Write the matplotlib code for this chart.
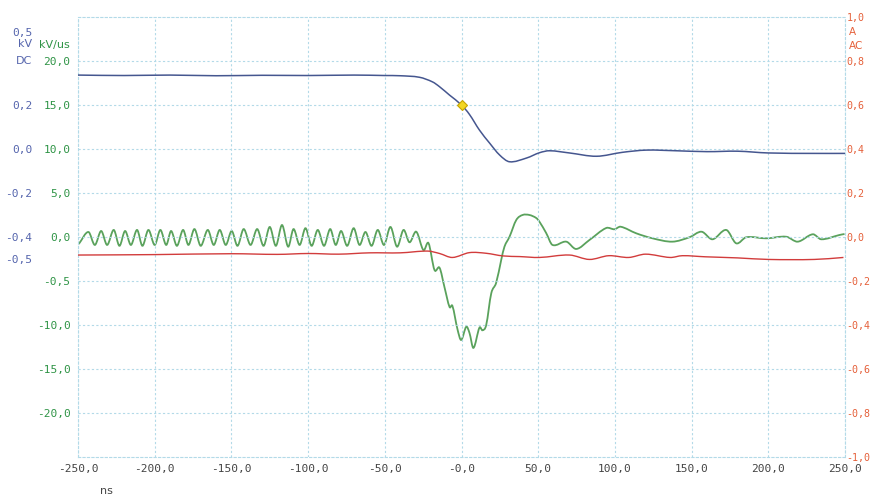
import matplotlib
matplotlib.use("Agg")
import matplotlib.pyplot as plt
from matplotlib.path import Path
from matplotlib.patches import PathPatch
import numpy as np

# time axis, ns
x_ticks = [-250, -200, -150, -100, -50, 0, 50, 100, 150, 200, 250]
x_labels = ["-250,0", "-200,0", "-150,0", "-100,0", "-50,0", "-0,0",
            "50,0", "100,0", "150,0", "200,0", "250,0"]

# green channel, kV/us
green_ticks = [20, 15, 10, 5, 0, -5, -10, -15, -20]
green_labels = ["20,0", "15,0", "10,0", "5,0", "0,0", "-0,5", "-10,0", "-15,0", "-20,0"]

# blue channel, kV DC
blue_ticks = [0.2, 0.0, -0.2, -0.4, -0.5]
blue_labels = ["0,2", "0,0", "-0,2", "-0,4", "-0,5"]

# red channel, A AC
red_ticks = [1.0, 0.8, 0.6, 0.4, 0.2, 0.0, -0.2, -0.4, -0.6, -0.8, -1.0]
red_labels = ["1,0", "0,8", "0,6", "0,4", "0,2", "0,0", "-0,2", "-0,4", "-0,6", "-0,8", "-1,0"]

green_t = [-249.5, -243.2, -239, -234.9, -231, -226.7, -223, -219.3, -215.5, -211.5,
           -208, -204.1, -200, -196.3, -192.5, -189.3, -185.5, -181.5, -178, -174.1,
           -170, -165.4, -161.5, -157.6, -153.7, -149.8, -146, -142, -137.5, -133.2,
           -129, -125, -121, -117, -113, -109.5, -105.5, -101.7, -97.7, -93.7,
           -89.6, -85.6, -82, -78.5, -74.5, -70.3, -66.5, -62.6, -58.6, -54.6,
           -50.5, -46.3, -42, -37.8, -33.9, -29.5, -24.8, -21.5,
           -17.6, -14.3, -11.1, -7.8, -5.9, -2.6, -0.2, 3.1, 5.2, 7.8,
           11.7, 13.7, 16.1, 19.4, 22.6, 25.9, 28.0, 31.3, 35.7, 39.8,
           44.3, 48.7, 50.8, 55.2, 59.3, 68.3, 74.8, 83.4, 94.3, 99.7,
           103.7, 113.9, 124.5, 137.5, 148.6, 156.5, 163.6, 172.6, 179.1, 185.6,
           198.6, 211.7, 219.2, 229.0, 234.5, 246.4, 249.7]
green_v = [-0.8, 0.57, -0.9, 0.68, -0.9, 0.8, -1.0, 0.68, -0.9, 0.8,
           -1.0, 0.8, -0.9, 0.8, -0.9, 0.68, -1.0, 0.8, -0.9, 0.9,
           -1.0, 0.8, -0.9, 0.8, -0.9, 0.68, -1.0, 0.9, -0.9, 0.9,
           -1.0, 1.14, -1.0, 1.36, -1.1, 0.9, -0.9, 1.0, -1.0, 0.8,
           -1.0, 0.9, -0.9, 0.68, -1.0, 1.0, -0.9, 0.57, -1.0, 0.8,
           -0.9, 1.14, -1.1, 0.8, -0.6, 0.6, -1.5, -0.7,
           -3.75, -3.5, -5.7, -7.95, -7.84, -10.5, -11.7, -10.2, -10.9, -12.6,
           -10.3, -10.6, -10.0, -6.4, -5.2, -2.6, -1.1, 0.03, 1.93, 2.5,
           2.5, 2.16, 1.74, 0.45, -0.9, -0.53, -1.36, -0.34, 1.02, 0.88,
           1.17, 0.42, -0.15, -0.53, -0.03, 0.6, -0.26, 0.8, -0.72, -0.03,
           -0.15, 0.03, -0.53, 0.31, -0.26, 0.23, 0.34]

blue_t = [-250, -220, -190, -160, -130, -100, -70, -50, -40, -27.4, -18.9, -14.3,
          -7.8, 0, 5.2, 11.7, 18.3, 24.8, 31.3, 42.4, 50.8, 57.4, 70.4, 88,
          105, 120.6, 140, 160, 180, 200, 230, 250]
blue_v = [0.336, 0.334, 0.336, 0.333, 0.335, 0.334, 0.336, 0.334, 0.333, 0.326, 0.305, 0.283,
          0.245, 0.200, 0.157, 0.086, 0.027, -0.027, -0.058, -0.041, -0.017, -0.008, -0.018, -0.033,
          -0.015, -0.005, -0.008, -0.012, -0.010, -0.018, -0.020, -0.020]

red_t = [-250, -200, -150, -120, -100, -80, -60, -40, -22, -14.3, -5.9, 5.2,
         16.1, 27, 38, 50.8, 70.4, 83.4, 96, 109, 120, 136, 144, 159,
         180, 200, 230, 249]
red_v = [-0.082, -0.080, -0.076, -0.079, -0.075, -0.078, -0.072, -0.072, -0.064, -0.075, -0.093, -0.071,
         -0.074, -0.086, -0.089, -0.093, -0.082, -0.102, -0.085, -0.093, -0.078, -0.093, -0.085, -0.090,
         -0.095, -0.102, -0.102, -0.093]

marker_t = [0]
marker_v = [0.2]


def smooth_path(t, v):
    # cubic hermite through the read points
    t = np.asarray(t, float)
    v = np.asarray(v, float)
    n = len(t)
    m = np.zeros(n)
    m[1:-1] = (v[2:] - v[:-2]) / (t[2:] - t[:-2])
    m[0] = (v[1] - v[0]) / (t[1] - t[0])
    m[-1] = (v[-1] - v[-2]) / (t[-1] - t[-2])
    verts = [(t[0], v[0])]
    codes = [Path.MOVETO]
    for i in range(n - 1):
        dt = t[i + 1] - t[i]
        verts += [(t[i] + dt / 3, v[i] + m[i] * dt / 3),
                  (t[i + 1] - dt / 3, v[i + 1] - m[i + 1] * dt / 3),
                  (t[i + 1], v[i + 1])]
        codes += [Path.CURVE4] * 3
    return Path(verts, codes)


W, H = 871, 497
fig = plt.figure(figsize=(W / 100, H / 100), dpi=100)
ax = fig.add_axes([78 / W, 1 - 457 / H, (845 - 78) / W, (457 - 17) / H])

grid_col = "#b3dae8"
mono = "DejaVu Sans Mono"
green_txt = "#2f9446"
blue_txt = "#5565ad"
red_txt = "#e5603a"
gray_txt = "#444444"

ax.set_xlim(-250, 250)
ax.set_ylim(-25, 25)
ax.set_xticks(x_ticks)
ax.set_xticklabels(x_labels, family=mono, fontsize=8, color=gray_txt)
ax.set_yticks(green_ticks)
ax.set_yticklabels(green_labels, family=mono, fontsize=8, color=green_txt)
ax.tick_params(length=0)
ax.tick_params(axis="y", pad=5.5)
ax.tick_params(axis="x", pad=5)
ax.grid(True, color=grid_col, linestyle=(0, (2, 2)), linewidth=0.8)
for s in ax.spines.values():
    s.set_color(grid_col)
    s.set_linestyle((0, (2, 2)))
    s.set_linewidth(0.8)

ax.add_patch(PathPatch(smooth_path(green_t, green_v), fill=False,
                       edgecolor="#5aa25c", linewidth=1.3))

# red channel on right scale
ax_r = ax.twinx()
ax_r.set_ylim(-1, 1)
ax_r.set_yticks(red_ticks)
ax_r.set_yticklabels(red_labels, family=mono, fontsize=7.2, color=red_txt)
ax_r.tick_params(length=0, pad=1)
for s in ax_r.spines.values():
    s.set_visible(False)
ax_r.add_patch(PathPatch(smooth_path(red_t, red_v), fill=False,
                         edgecolor="#d23c3c", linewidth=1.0))

# blue channel on outer left scale
ax_b = ax.twinx()
ax_b.set_ylim(-1.4, 0.6)
ax_b.yaxis.tick_left()
ax_b.spines["left"].set_position(("outward", 33))
for s in ax_b.spines.values():
    s.set_visible(False)
ax_b.set_yticks(blue_ticks)
ax_b.set_yticklabels(blue_labels, family=mono, fontsize=8, color=blue_txt)
ax_b.tick_params(length=0, pad=0)
ax_b.add_patch(PathPatch(smooth_path(blue_t, blue_v), fill=False,
                         edgecolor="#45568f", linewidth=1.1))
ax_b.plot(marker_t, marker_v, linestyle="none", marker="D", markersize=5.5,
          markerfacecolor="#f3d622", markeredgecolor="#c7a500", markeredgewidth=0.8)

# unit captions
def px_text(x, y, s, color, ha="right", family="DejaVu Sans", size=8):
    fig.text(x / W, 1 - y / H, s, color=color, ha=ha, va="center",
             family=family, fontsize=size)

px_text(32, 33, "0,5", blue_txt, family=mono)
px_text(32, 44, "kV", blue_txt)
px_text(32, 61, "DC", blue_txt)
px_text(70, 45, "kV/us", green_txt)
px_text(849, 32, "A", red_txt, ha="left", size=7.5)
px_text(849, 46, "AC", red_txt, ha="left", size=7.5)
px_text(106, 491, "ns", gray_txt, ha="center")

fig.savefig("out.png", dpi=100)
